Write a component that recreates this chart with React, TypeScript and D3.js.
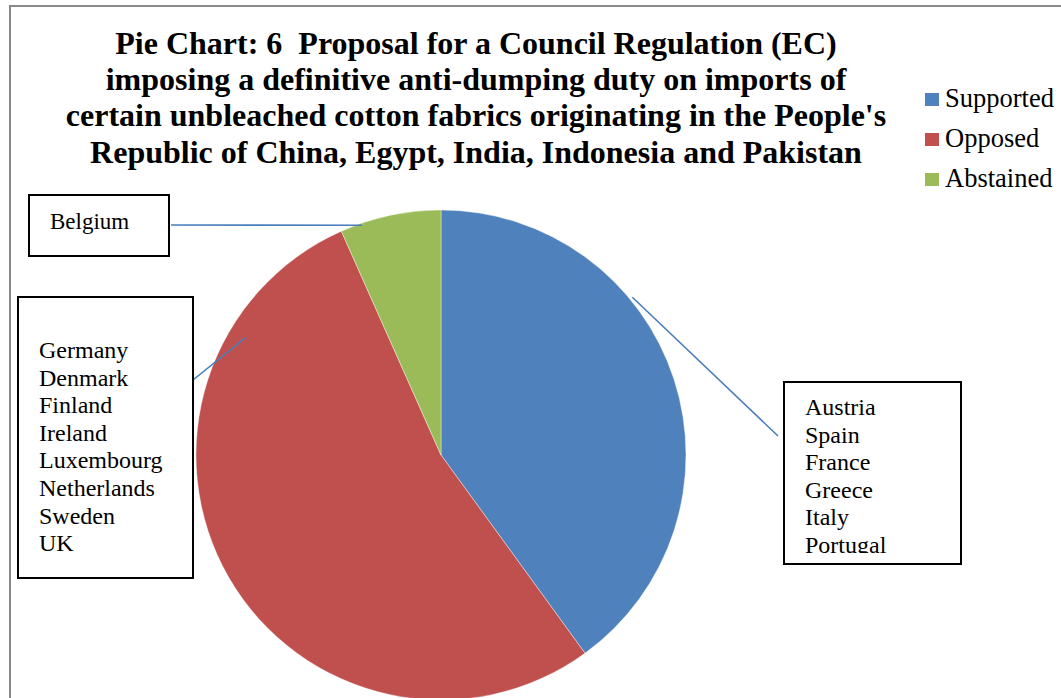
import React from "react";
import * as d3 from "d3";

const categories = ["Supported", "Opposed", "Abstained"];
const votes = [6, 8, 1];
const colors = ["#4F81BD", "#C0504D", "#9BBB59"];
const titleLines = [
  "Pie Chart: 6\u00a0 Proposal for a Council Regulation (EC)",
  "imposing a definitive anti-dumping duty on imports of",
  "certain unbleached cotton fabrics originating in the People's",
  "Republic of China, Egypt, India, Indonesia and Pakistan",
];
const supportedCountries = ["Austria", "Spain", "France", "Greece", "Italy", "Portugal"];
const opposedCountries = ["Germany", "Denmark", "Finland", "Ireland", "Luxembourg", "Netherlands", "Sweden", "UK"];
const abstainedCountries = ["Belgium"];

const W = 1061;
const H = 698;
const FONT = "Liberation Serif";

export default function App() {
  const cx = 441;
  const cy = 455;
  const r = 245;
  const pie = d3.pie<number>().sort(null).value((d) => d);
  const arcs = pie(votes);
  const arc = d3.arc<d3.PieArcDatum<number>>().innerRadius(0).outerRadius(r);

  const polar = (deg: number, rad: number) => {
    const a = (deg * Math.PI) / 180;
    return [cx + rad * Math.sin(a), cy - rad * Math.cos(a)];
  };

  const boxes = [
    { items: abstainedCountries, x: 29, y: 195, w: 140, h: 61, tx: 50, ty: 229, fs: 23, line: [[171, 225], polar(341, 243)], clip: false },
    { items: opposedCountries, x: 18, y: 297, w: 175, h: 281, tx: 39, ty: 358, fs: 24, line: [[193, 380], polar(301, 228)], clip: false },
    { items: supportedCountries, x: 784, y: 382, w: 177, h: 182, tx: 805, ty: 415, fs: 24, line: [[778, 436], polar(50.5, 248)], clip: true },
  ];
  const lh = 27.6;

  return (
    <svg width={W} height={H} style={{ position: "fixed", left: 0, top: 0, background: "#fff" }}>
      <defs>
        <clipPath id="clipA">
          <rect x={784} y={382} width={177} height={553 - 382} />
        </clipPath>
      </defs>
      <rect x={0} y={0} width={W} height={H} fill="#fff" />
      <rect x={10} y={6} width={W + 20} height={H + 20} fill="none" stroke="#898989" strokeWidth={2} />
      <g style={{ fontFamily: FONT }} fontWeight="bold" fontSize={32} fill="#000" textAnchor="middle">
        {titleLines.map((t, i) => (
          <text key={i} x={476} y={54 + i * 36.2}>
            {t}
          </text>
        ))}
      </g>
      <g transform={`translate(${cx},${cy})`}>
        {arcs.map((a, i) => (
          <path key={i} d={arc(a) || ""} fill={colors[i]} stroke="#fff" strokeWidth={0.4} />
        ))}
      </g>
      {boxes.map((b, i) => (
        <g key={i}>
          <line x1={b.line[0][0]} y1={b.line[0][1]} x2={b.line[1][0]} y2={b.line[1][1]} stroke="#4A7EBB" strokeWidth={1.6} />
          <rect x={b.x} y={b.y} width={b.w} height={b.h} fill="#fff" stroke="#000" strokeWidth={2} />
          <g clipPath={b.clip ? "url(#clipA)" : undefined} style={{ fontFamily: FONT }} fontSize={b.fs} fill="#000">
            {b.items.map((c, j) => (
              <text key={j} x={b.tx} y={b.ty + j * lh}>
                {c}
              </text>
            ))}
          </g>
        </g>
      ))}
      <g style={{ fontFamily: FONT }} fontSize={26.5} fill="#000">
        {categories.map((c, i) => (
          <g key={c}>
            <rect x={925} y={93 + i * 40} width={14} height={13} fill={colors[i]} />
            <text x={945} y={107 + i * 40}>
              {c}
            </text>
          </g>
        ))}
      </g>
    </svg>
  );
}
